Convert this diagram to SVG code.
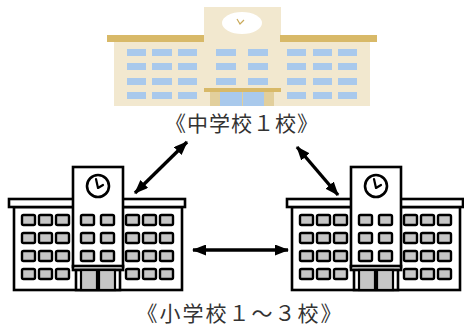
<svg xmlns="http://www.w3.org/2000/svg" width="464" height="328" viewBox="0 0 464 328">
  <style>
    .label { font-family: "Noto Sans CJK JP", "Noto Sans", sans-serif; font-size: 21px; fill: #333; }
    .cream { fill: #f2e8cf; }
    .tan { fill: #d8b968; }
    .glass { fill: #a9c9ec; }
    .ink { fill: #fff; stroke: #000; stroke-width: 2.6; }
    .win { fill: #c6c6c6; stroke: #000; stroke-width: 2.4; }
    .door { fill: #c6c6c6; stroke: #000; stroke-width: 2.2; }
    .conn { stroke: #000; stroke-width: 3.4; fill: none; }
  </style>
  <defs>
    <marker id="head" viewBox="0 0 14 11" refX="13" refY="5.5" markerWidth="14" markerHeight="11" markerUnits="userSpaceOnUse" orient="auto-start-reverse">
      <path d="M0,0 L14,5.5 L0,11 Z" fill="#000"/>
    </marker>
    <!-- window grid used for the small school -->
    <g id="winRow3">
      <rect class="win" x="0" y="0" width="13" height="10" rx="1.5"/>
      <rect class="win" x="17" y="0" width="13" height="10" rx="1.5"/>
      <rect class="win" x="34" y="0" width="13" height="10" rx="1.5"/>
    </g>
    <g id="winRow2">
      <rect class="win" x="0" y="0" width="13" height="10" rx="1.5"/>
      <rect class="win" x="20" y="0" width="13" height="10" rx="1.5"/>
    </g>
    <g id="smallSchool">
      <!-- wings -->
      <rect class="ink" x="14" y="207" width="168" height="83"/>
      <rect class="ink" x="9" y="199" width="176" height="8"/>
      <!-- tower -->
      <rect class="ink" x="73" y="167" width="50" height="100"/>
      <circle class="ink" cx="98" cy="186" r="11"/>
      <path d="M96,179 L98,188 L103,185" fill="none" stroke="#000" stroke-width="2.2" stroke-linecap="round" stroke-linejoin="round"/>
      <!-- canopy and entrance -->
      <rect class="ink" x="73" y="266" width="50" height="4"/>
      <rect class="ink" x="76" y="270" width="44" height="20"/>
      <rect class="door" x="81" y="270" width="16" height="20"/>
      <rect class="door" x="99" y="270" width="16" height="20"/>
      <!-- left wing windows -->
      <use href="#winRow3" x="22" y="215"/>
      <use href="#winRow3" x="22" y="233"/>
      <use href="#winRow3" x="22" y="251"/>
      <use href="#winRow3" x="22" y="269"/>
      <!-- tower windows -->
      <use href="#winRow2" x="81" y="215"/>
      <use href="#winRow2" x="81" y="233"/>
      <use href="#winRow2" x="81" y="251"/>
      <!-- right wing windows -->
      <use href="#winRow3" x="126" y="215"/>
      <use href="#winRow3" x="126" y="233"/>
      <use href="#winRow3" x="126" y="251"/>
      <use href="#winRow3" x="126" y="269"/>
    </g>
  </defs>

  <!-- junior high school -->
  <g id="junior-high">
    <rect class="cream" x="114" y="42" width="256" height="64"/>
    <rect class="cream" x="204" y="7" width="77" height="81"/>
    <rect class="tan" x="107" y="35" width="97" height="7"/>
    <rect class="tan" x="280" y="35" width="97" height="7"/>
    <ellipse cx="242" cy="23" rx="20" ry="11" fill="#fff"/>
    <path d="M237,19 L240,24 L244,20" fill="none" stroke="#c9a95a" stroke-width="1.2"/>
    <g class="glass">
      <!-- left wing -->
      <rect x="127" y="49" width="19" height="7"/><rect x="152" y="49" width="20" height="7"/><rect x="178" y="49" width="19" height="7"/>
      <rect x="127" y="63" width="19" height="7"/><rect x="152" y="63" width="20" height="7"/><rect x="178" y="63" width="19" height="7"/>
      <rect x="127" y="78" width="19" height="7"/><rect x="152" y="78" width="20" height="7"/><rect x="178" y="78" width="19" height="7"/>
      <rect x="127" y="92" width="19" height="7"/><rect x="152" y="92" width="20" height="7"/><rect x="178" y="92" width="19" height="7"/>
      <!-- tower -->
      <rect x="216" y="49" width="20" height="7"/><rect x="248" y="49" width="20" height="7"/>
      <rect x="216" y="63" width="20" height="7"/><rect x="248" y="63" width="20" height="7"/>
      <rect x="216" y="78" width="20" height="7"/><rect x="248" y="78" width="20" height="7"/>
      <!-- right wing -->
      <rect x="287" y="49" width="19" height="7"/><rect x="313" y="49" width="19" height="7"/><rect x="338" y="49" width="19" height="7"/>
      <rect x="287" y="63" width="19" height="7"/><rect x="313" y="63" width="19" height="7"/><rect x="338" y="63" width="19" height="7"/>
      <rect x="287" y="78" width="19" height="7"/><rect x="313" y="78" width="19" height="7"/><rect x="338" y="78" width="19" height="7"/>
      <rect x="287" y="92" width="19" height="7"/><rect x="313" y="92" width="19" height="7"/><rect x="338" y="92" width="19" height="7"/>
    </g>
    <!-- entrance -->
    <rect class="tan" x="204" y="88" width="77" height="4"/>
    <rect x="210" y="92" width="64" height="14" fill="#e2cf9c"/>
    <rect class="glass" x="220" y="92" width="22" height="14"/>
    <rect class="glass" x="243" y="92" width="21" height="14"/>
    <text class="label" x="242" y="131" text-anchor="middle" letter-spacing="1">《中学校１校》</text>
  </g>

  <!-- elementary schools -->
  <g id="elementary-left">
    <use href="#smallSchool"/>
  </g>
  <g id="elementary-right">
    <use href="#smallSchool" x="278"/>
  </g>
  <text class="label" x="240" y="321" text-anchor="middle" letter-spacing="2">《小学校１～３校》</text>

  <!-- links between schools -->
  <g id="connectors">
    <line class="conn" x1="187" y1="142" x2="135" y2="193" marker-start="url(#head)" marker-end="url(#head)"/>
    <line class="conn" x1="297" y1="147" x2="338" y2="195" marker-start="url(#head)" marker-end="url(#head)"/>
    <line class="conn" x1="193" y1="250" x2="288" y2="250" marker-start="url(#head)" marker-end="url(#head)"/>
  </g>
</svg>
